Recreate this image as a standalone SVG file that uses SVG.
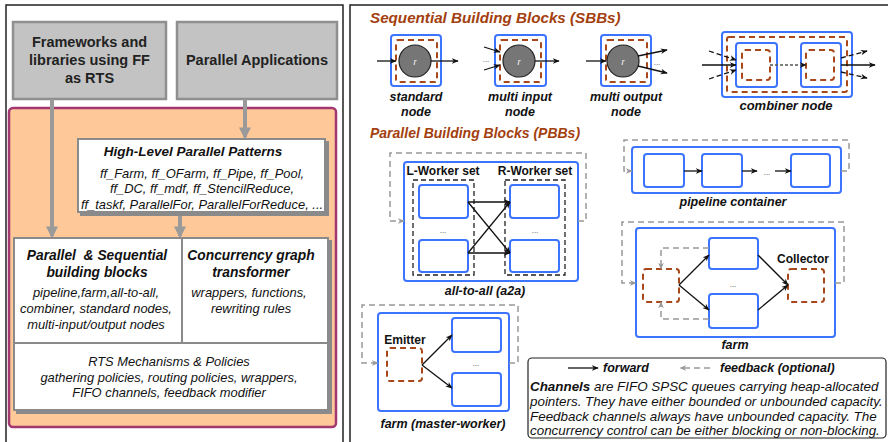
<svg xmlns="http://www.w3.org/2000/svg" width="888" height="442" viewBox="0 0 888 442">
  <style>
    text { font-family: "Liberation Sans", Arial, sans-serif; fill: #111; }
    .bi { font-weight: bold; font-style: italic; }
    .it { font-style: italic; }
    .b { font-weight: bold; }
    .hd { font-size: 14.5px; font-weight: bold; fill: #222; }
    .body { font-size: 12.9px; }
    .sub { font-size: 13.8px; font-weight: bold; font-style: italic; white-space: pre; }
    .lbl { font-size: 12.5px; }
    .leg { font-size: 13.4px; font-style: italic; }
    .ttl { font-weight: bold; font-style: italic; fill: #a3400e; }
    .dots { font-size: 8px; fill: #444; }
    .gbox { fill: #c3c3c3; stroke: #8f8f8f; stroke-width: 2.5; }
    .wbox { fill: #fff; stroke: #8a8a8a; stroke-width: 2; }
    .garrow { stroke: #9a9a9a; stroke-width: 4; fill: none; marker-end: url(#gtip); }
    .blue { fill: #fff; stroke: #3d74ff; stroke-width: 2; }
    .brown { fill: none; stroke: #a8471a; stroke-width: 2; stroke-dasharray: 6 4; }
    .kdash { fill: none; stroke: #222; stroke-width: 1.3; stroke-dasharray: 5 3; }
    .fwd { stroke: #111; stroke-width: 1.3; fill: none; marker-end: url(#ktip); }
    .fwdd { stroke: #111; stroke-width: 1.3; fill: none; stroke-dasharray: 5 3; marker-end: url(#ktip); }
    .fba { stroke: #999; stroke-width: 1.5; fill: none; stroke-dasharray: 6 4; marker-end: url(#gytip); }
    .core { fill: #767676; stroke: #222; stroke-width: 1.2; }
    .r { font-size: 9px; font-style: italic; fill: #fff; }
  </style>
  <defs>
    <marker id="gtip" viewBox="0 0 10 10" refX="8" refY="5" markerWidth="3" markerHeight="3" orient="auto">
      <path d="M0,0 L10,5 L0,10 z" fill="#9a9a9a"/>
    </marker>
    <marker id="ktip" viewBox="0 0 10 10" refX="9" refY="5" markerWidth="7" markerHeight="7" orient="auto" markerUnits="userSpaceOnUse">
      <path d="M0,1 L10,5 L0,9 L3,5 z" fill="#111"/>
    </marker>
    <marker id="gytip" viewBox="0 0 10 10" refX="9" refY="5" markerWidth="7" markerHeight="7" orient="auto" markerUnits="userSpaceOnUse">
      <path d="M0,1 L10,5 L0,9 L3,5 z" fill="#999"/>
    </marker>
    <filter id="shadow" x="-5%" y="-5%" width="115%" height="115%">
      <feOffset dx="3" dy="3" in="SourceAlpha" result="o"/>
      <feFlood flood-color="#8a8a8a"/>
      <feComposite in2="o" operator="in"/>
      <feMerge><feMergeNode/><feMergeNode in="SourceGraphic"/></feMerge>
    </filter>
  </defs>

  <!-- panel frames -->
  <path d="M6,442 V5 H343 V442" fill="none" stroke="#222" stroke-width="1.5"/>
  <path d="M350,442 V5 H888" fill="none" stroke="#222" stroke-width="1.5"/>

  <!-- ===== software stack ===== -->
  <g id="frameworks">
    <rect class="gbox" x="13" y="22" width="153" height="77"/>
    <text class="hd" x="89.5" y="47" text-anchor="middle">Frameworks and</text>
    <text class="hd" x="89.5" y="65" text-anchor="middle">libraries using FF</text>
    <text class="hd" x="89.5" y="83" text-anchor="middle">as RTS</text>
  </g>
  <g id="applications">
    <rect class="gbox" x="177" y="22" width="160" height="77"/>
    <text class="hd" x="257" y="65" text-anchor="middle">Parallel Applications</text>
  </g>

  <g id="runtime">
    <rect x="9" y="108" width="327" height="319" rx="4" fill="#fec899" stroke="#a3376f" stroke-width="2.5"/>
  </g>

  <g id="connectors-stack">
    <line class="garrow" x1="52" y1="99" x2="52" y2="236"/>
    <line class="garrow" x1="245" y1="99" x2="245" y2="137"/>
    <line class="garrow" x1="180" y1="212" x2="180" y2="236"/>
  </g>

  <g id="patterns">
    <rect class="wbox" x="78" y="139" width="247" height="73" filter="url(#shadow)"/>
    <text class="bi" x="193" y="156" text-anchor="middle" style="font-size:13.5px">High-Level Parallel Patterns</text>
    <text class="it body" x="202" y="178" text-anchor="middle">ff_Farm, ff_OFarm, ff_Pipe, ff_Pool,</text>
    <text class="it body" x="202" y="193" text-anchor="middle">ff_DC, ff_mdf, ff_StencilReduce,</text>
    <text class="it body" x="202" y="209" text-anchor="middle">ff_taskf, ParallelFor, ParallelForReduce, ...</text>
  </g>

  <g id="core-layers">
    <rect class="wbox" x="14" y="238" width="314" height="172" filter="url(#shadow)"/>
    <line x1="182" y1="238" x2="182" y2="343" stroke="#8a8a8a" stroke-width="2"/>
    <line x1="14" y1="343" x2="328" y2="343" stroke="#8a8a8a" stroke-width="2"/>
  </g>
  <g id="building-blocks">
    <text class="sub" x="97" y="260" text-anchor="middle">Parallel  &amp; Sequential</text>
    <text class="sub" x="97" y="277" text-anchor="middle">building blocks</text>
    <text class="it body" x="96" y="297" text-anchor="middle">pipeline,farm,all-to-all,</text>
    <text class="it body" x="96" y="313" text-anchor="middle">combiner, standard nodes,</text>
    <text class="it body" x="96" y="329" text-anchor="middle">multi-input/output nodes</text>
  </g>
  <g id="graph-transformer">
    <text class="sub" x="251" y="260" text-anchor="middle">Concurrency graph</text>
    <text class="sub" x="251" y="277" text-anchor="middle">transformer</text>
    <text class="it body" x="249" y="297" text-anchor="middle">wrappers, functions,</text>
    <text class="it body" x="251" y="313" text-anchor="middle">rewriting rules</text>
  </g>
  <g id="rts-mechanisms">
    <text class="it body" x="169" y="366" text-anchor="middle">RTS Mechanisms &amp; Policies</text>
    <text class="it body" x="169" y="382" text-anchor="middle">gathering policies, routing policies, wrappers,</text>
    <text class="it body" x="169" y="397" text-anchor="middle">FIFO channels, feedback modifier</text>
  </g>

  <!-- ===== sequential building blocks ===== -->
  <text class="ttl" x="370" y="23" style="font-size:15.2px">Sequential Building Blocks (SBBs)</text>

  <g id="standard-node">
    <rect class="blue" x="391" y="35" width="50" height="51" rx="3"/>
    <rect class="brown" x="396" y="40" width="41" height="42" rx="2"/>
    <circle class="core" cx="415" cy="61" r="16"/>
    <text class="r" x="415" y="65" text-anchor="middle">r</text>
    <text class="bi lbl" x="416" y="101" text-anchor="middle">standard</text>
    <text class="bi lbl" x="416" y="116" text-anchor="middle">node</text>
  </g>
  <g id="multi-input-node">
    <rect class="blue" x="495" y="35" width="51" height="51" rx="3"/>
    <rect class="brown" x="500" y="40" width="41" height="42" rx="2"/>
    <circle class="core" cx="519" cy="61" r="16"/>
    <text class="r" x="519" y="65" text-anchor="middle">r</text>
    <text class="dots" x="486" y="62" text-anchor="middle">...</text>
    <text class="bi lbl" x="520" y="101" text-anchor="middle">multi input</text>
    <text class="bi lbl" x="520" y="116" text-anchor="middle">node</text>
  </g>
  <g id="multi-output-node">
    <rect class="blue" x="601" y="35" width="50" height="51" rx="3"/>
    <rect class="brown" x="606" y="40" width="41" height="42" rx="2"/>
    <circle class="core" cx="623" cy="61" r="16"/>
    <text class="r" x="623" y="65" text-anchor="middle">r</text>
    <text class="dots" x="657" y="65" text-anchor="middle">...</text>
    <text class="bi lbl" x="626" y="101" text-anchor="middle">multi output</text>
    <text class="bi lbl" x="626" y="116" text-anchor="middle">node</text>
  </g>
  <g id="combiner-node">
    <rect class="blue" x="722" y="32" width="130" height="65" rx="3"/>
    <rect class="brown" x="727" y="37" width="120" height="55" rx="2"/>
    <rect class="blue" x="736" y="43" width="41" height="44" rx="3"/>
    <rect class="brown" x="742" y="50" width="28" height="30" rx="3"/>
    <rect class="blue" x="801" y="43" width="40" height="44" rx="3"/>
    <rect class="brown" x="806" y="50" width="28" height="30" rx="3"/>
    <text class="bi" x="786" y="110" text-anchor="middle" style="font-size:13px">combiner node</text>
  </g>

  <g id="connectors-sbb">
    <line class="fwd" x1="377" y1="61" x2="396" y2="61"/>
    <line class="fwd" x1="431" y1="61" x2="458" y2="61"/>
    <line class="fwd" x1="484" y1="47" x2="500" y2="52"/>
    <line class="fwd" x1="484" y1="70" x2="500" y2="65"/>
    <line class="fwd" x1="535" y1="61" x2="559" y2="61"/>
    <line class="fwd" x1="586" y1="61" x2="606" y2="61"/>
    <line class="fwd" x1="638" y1="56" x2="667" y2="50"/>
    <line class="fwd" x1="638" y1="66" x2="667" y2="73"/>
    <line class="fwd" x1="702" y1="65" x2="736" y2="65"/>
    <line class="fwdd" x1="709" y1="51" x2="736" y2="60"/>
    <line class="fwdd" x1="709" y1="79" x2="736" y2="70"/>
    <line x1="770" y1="65" x2="806" y2="65" stroke="#555" stroke-width="1.3" stroke-dasharray="3 2" marker-end="url(#ktip)"/>
    <line class="fwd" x1="841" y1="65" x2="875" y2="65"/>
    <line class="fwdd" x1="841" y1="58" x2="867" y2="51"/>
    <line class="fwdd" x1="841" y1="72" x2="867" y2="78"/>
  </g>

  <!-- ===== parallel building blocks ===== -->
  <text class="ttl" x="370" y="138" style="font-size:14px">Parallel Building Blocks (PBBs)</text>

  <g id="all-to-all">
    <rect class="blue" x="404" y="162" width="174" height="119" rx="3"/>
    <text class="b" x="443" y="175" text-anchor="middle" style="font-size:12px">L-Worker set</text>
    <text class="b" x="535" y="175" text-anchor="middle" style="font-size:12px">R-Worker set</text>
    <rect class="kdash" x="413" y="180" width="61" height="95"/>
    <rect class="kdash" x="505" y="180" width="60" height="95"/>
    <rect class="blue" x="419" y="185" width="49" height="33" rx="3"/>
    <rect class="blue" x="419" y="240" width="49" height="32" rx="3"/>
    <rect class="blue" x="510" y="185" width="49" height="33" rx="3"/>
    <rect class="blue" x="510" y="240" width="49" height="32" rx="3"/>
    <text class="dots" x="443" y="233" text-anchor="middle">...</text>
    <text class="dots" x="535" y="233" text-anchor="middle">...</text>
    <text class="bi lbl" x="485" y="295" text-anchor="middle">all-to-all (a2a)</text>
  </g>

  <g id="pipeline">
    <rect class="blue" x="632" y="147" width="209" height="46" rx="3"/>
    <rect class="blue" x="644" y="154" width="40" height="33" rx="3"/>
    <rect class="blue" x="702" y="154" width="40" height="33" rx="3"/>
    <rect class="blue" x="791" y="154" width="39" height="33" rx="3"/>
    <text class="dots" x="767" y="175" text-anchor="middle">...</text>
    <text class="bi lbl" x="733" y="206" text-anchor="middle">pipeline container</text>
  </g>

  <g id="farm">
    <rect class="blue" x="636" y="228" width="199" height="109" rx="3"/>
    <rect class="brown" x="643" y="269" width="36" height="33" rx="3"/>
    <rect class="blue" x="709" y="238" width="49" height="31" rx="3"/>
    <rect class="blue" x="709" y="294" width="49" height="34" rx="3"/>
    <rect class="brown" x="788" y="269" width="36" height="33" rx="3"/>
    <text class="b" x="803" y="263" text-anchor="middle" style="font-size:12px">Collector</text>
    <text class="dots" x="733" y="287" text-anchor="middle">...</text>
    <text class="bi lbl" x="735" y="349" text-anchor="middle">farm</text>
  </g>

  <g id="farm-master-worker">
    <rect class="blue" x="378" y="313" width="131" height="98" rx="3"/>
    <rect class="brown" x="387" y="348" width="35" height="33" rx="3"/>
    <text class="b" x="405" y="344" text-anchor="middle" style="font-size:12px">Emitter</text>
    <rect class="blue" x="452" y="318" width="49" height="34" rx="3"/>
    <rect class="blue" x="452" y="373" width="49" height="33" rx="3"/>
    <text class="dots" x="476" y="366" text-anchor="middle">...</text>
    <text class="bi lbl" x="443" y="428" text-anchor="middle">farm (master-worker)</text>
  </g>

  <g id="connectors-pbb">
    <!-- all-to-all -->
    <line class="fwd" x1="468" y1="202" x2="510" y2="202"/>
    <line class="fwd" x1="468" y1="202" x2="510" y2="253"/>
    <line class="fwd" x1="468" y1="253" x2="510" y2="202"/>
    <line class="fwd" x1="468" y1="253" x2="510" y2="253"/>
    <polyline class="fba" points="578,221 586,221 586,153 390,153 390,221 404,221"/>
    <!-- pipeline -->
    <line class="fwd" x1="684" y1="171" x2="702" y2="171"/>
    <line class="fwd" x1="742" y1="171" x2="757" y2="171"/>
    <line class="fwd" x1="775" y1="171" x2="791" y2="171"/>
    <polyline class="fba" points="841,171 849,171 849,140 624,140 624,171 632,171"/>
    <!-- farm -->
    <line class="fwd" x1="679" y1="285" x2="709" y2="255"/>
    <line class="fwd" x1="679" y1="285" x2="709" y2="310"/>
    <line class="fwd" x1="758" y1="255" x2="788" y2="285"/>
    <line class="fwd" x1="758" y1="310" x2="788" y2="285"/>
    <polyline class="fba" points="709,248 661,248 661,269"/>
    <polyline class="fba" points="709,319 661,319 661,302"/>
    <polyline class="fba" points="835,283 844,283 844,222 622,222 622,283 636,283"/>
    <!-- master-worker -->
    <line class="fwd" x1="422" y1="365" x2="452" y2="335"/>
    <line class="fwd" x1="422" y1="365" x2="452" y2="388"/>
    <polyline class="fba" points="509,363 518,363 518,305 362,305 362,363 378,363"/>
  </g>

  <!-- ===== legend ===== -->
  <g id="legend">
    <rect x="528" y="358" width="358" height="80" rx="4" fill="#fff" stroke="#222" stroke-width="1.2"/>
    <line class="fwd" x1="568" y1="368" x2="598" y2="368"/>
    <text class="bi" x="603" y="372" style="font-size:12.5px">forward</text>
    <line class="fba" x1="710" y1="368" x2="680" y2="368"/>
    <text class="bi" x="720" y="372" style="font-size:12.5px">feedback (optional)</text>
    <text class="leg" x="530" y="391"><tspan class="b">Channels</tspan> are FIFO SPSC queues carrying heap-allocated</text>
    <text class="leg" x="530" y="406">pointers. They have either bounded or unbounded capacity.</text>
    <text class="leg" x="530" y="421">Feedback channels always have unbounded capacity. The</text>
    <text class="leg" x="530" y="435">concurrency control can be either blocking or non-blocking.</text>
  </g>
</svg>
